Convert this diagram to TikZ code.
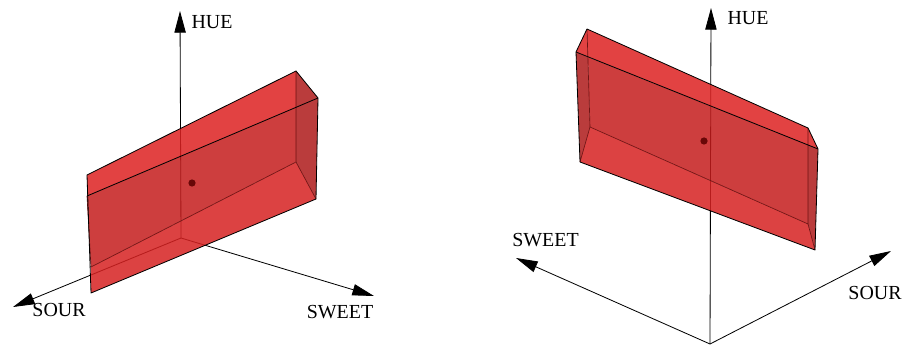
\documentclass[tikz,border=0pt]{standalone}
\usepackage{fontspec}
\setmainfont{Liberation Serif}
\usepackage{tikz}
\usetikzlibrary{arrows.meta}

\definecolor{facelight}{RGB}{221,33,33}
\definecolor{facebottom}{RGB}{214,33,33}
\definecolor{facemid}{RGB}{196,28,28}
\definecolor{facedark}{RGB}{174,26,26}
\definecolor{edgered}{RGB}{110,20,20}
\definecolor{dotred}{RGB}{105,8,8}

\begin{document}
\begin{tikzpicture}[
      x=0.03cm, y=-0.03cm,
      font=\fontsize{17}{20}\selectfont,
      axis/.style={-{Triangle[length=6.5mm,width=3.4mm]}, line width=0.7pt},
      face/.style={fill opacity=0.85},
      edge/.style={line width=0.7pt, black, line join=round},
      inner/.style={line width=0.55pt, edgered},
      lbl/.style={inner sep=0pt}
    ]
    \useasboundingbox (0,0) rectangle (907,347);

    % Left view: axes
    \coordinate (l-o) at (181,238);
    \coordinate (l-hue) at (180,11);
    \coordinate (l-sour) at (13,307);
    \coordinate (l-sweet) at (374,296);
    \draw[axis] (l-o) -- (l-hue);
    \draw[axis] (l-o) -- (l-sour);
    \draw[axis] (l-o) -- (l-sweet);

    % Left view: box corners (b = back, f = front)
    \coordinate (l-btl) at (87,175);
    \coordinate (l-btr) at (296,71);
    \coordinate (l-bbr) at (296,162);
    \coordinate (l-bbl) at (91,267);
    \coordinate (l-ftl) at (87,196);
    \coordinate (l-ftr) at (318,98);
    \coordinate (l-fbr) at (316,199);
    \coordinate (l-fbl) at (91,293);
    \coordinate (l-fx) at (296,107.3);

    \fill[face, facelight] (l-btl) -- (l-btr) -- (l-fx) -- (l-ftl) -- cycle;
    \fill[face, facedark] (l-btr) -- (l-ftr) -- (l-fbr) -- (l-bbr) -- cycle;
    \fill[face, facemid] (l-ftl) -- (l-fx) -- (l-bbr) -- (l-bbl) -- cycle;
    \fill[face, facebottom] (l-bbl) -- (l-bbr) -- (l-fbr) -- (l-fbl) -- cycle;

    \draw[inner] (l-btr) -- (l-bbr) -- (l-bbl);
    \draw[inner] (l-bbr) -- (l-fbr);
    \draw[inner] (l-ftl) -- (l-bbl);
    \draw[edge] (l-ftl) -- (l-ftr);
    \draw[edge] (l-btl) -- (l-btr) -- (l-ftr) -- (l-fbr) -- (l-fbl) -- cycle;

    \fill[dotred] (192,183) circle (3.6);

    \node[lbl] (l-huelbl) at (212,22.5) {HUE};
    \node[lbl] (l-sourlbl) at (59,310.5) {SOUR};
    \node[lbl] (l-sweetlbl) at (340,312) {SWEET};

    % Right view: axes
    \coordinate (r-o) at (710,344);
    \coordinate (r-hue) at (711,8);
    \coordinate (r-sweet) at (516,258);
    \coordinate (r-sour) at (891,251);
    \draw[axis] (r-o) -- (r-hue);
    \draw[axis] (r-o) -- (r-sweet);
    \draw[axis] (r-o) -- (r-sour);

    % Right view: box corners
    \coordinate (r-btl) at (587,29);
    \coordinate (r-btr) at (808,128);
    \coordinate (r-bbr) at (808,224);
    \coordinate (r-bbl) at (590,127);
    \coordinate (r-ftl) at (576,52);
    \coordinate (r-ftr) at (818,149);
    \coordinate (r-fbr) at (815,250);
    \coordinate (r-fbl) at (580,162);
    \coordinate (r-fx1) at (588,57);
    \coordinate (r-fx2) at (808,145);

    \fill[face, facelight] (r-btl) -- (r-btr) -- (r-ftr) -- (r-ftl) -- cycle;
    \fill[face, facedark] (r-ftl) -- (r-fx1) -- (r-bbl) -- (r-fbl) -- cycle;
    \fill[face, facedark] (r-fx2) -- (r-ftr) -- (r-fbr) -- (r-bbr) -- cycle;
    \fill[face, facemid] (r-fx1) -- (r-fx2) -- (r-bbr) -- (r-bbl) -- cycle;
    \fill[face, facebottom] (r-bbl) -- (r-bbr) -- (r-fbr) -- (r-fbl) -- cycle;

    \draw[inner] (r-btl) -- (r-bbl) -- (r-bbr) -- (r-btr);
    \draw[inner] (r-bbl) -- (r-fbl);
    \draw[inner] (r-bbr) -- (r-fbr);
    \draw[edge] (r-ftl) -- (r-ftr);
    \draw[edge] (r-btl) -- (r-btr) -- (r-ftr) -- (r-fbr) -- (r-fbl) -- (r-ftl) -- cycle;

    \fill[dotred] (704,141) circle (3.6);

    \node[lbl] (r-huelbl) at (748,18.5) {HUE};
    \node[lbl] (r-sweetlbl) at (545.5,240.5) {SWEET};
    \node[lbl] (r-sourlbl) at (875,293) {SOUR};
  \end{tikzpicture}
\end{document}
